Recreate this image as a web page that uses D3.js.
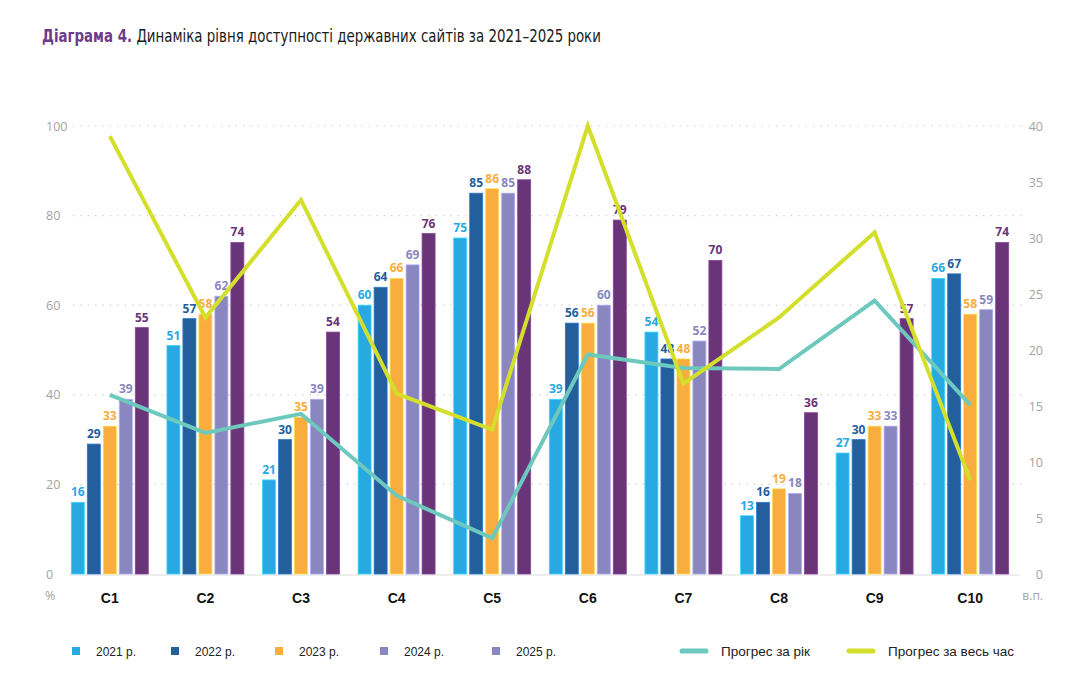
<!DOCTYPE html>
<html>
<head>
<meta charset="utf-8">
<style>
  html, body { margin: 0; padding: 0; background: #fff; }
</style>
</head>
<body>
<div id="chart"></div>
<script src="https://d3js.org/d3.v7.min.js"></script>
<script>
    const width = 1080;
    const height = 675;

    // data
    const categories = ["C1", "C2", "C3", "C4", "C5", "C6", "C7", "C8", "C9", "C10"];
    const years = ["2021 р.", "2022 р.", "2023 р.", "2024 р.", "2025 р."];
    const v2021 = [16, 51, 21, 60, 75, 39, 54, 13, 27, 66];
    const v2022 = [29, 57, 30, 64, 85, 56, 48, 16, 30, 67];
    const v2023 = [33, 58, 35, 66, 86, 56, 48, 19, 33, 58];
    const v2024 = [39, 62, 39, 69, 85, 60, 52, 18, 33, 59];
    const v2025 = [55, 74, 54, 76, 88, 79, 70, 36, 57, 74];
    const progressYear = [16.0, 12.6, 14.3, 7.0, 3.2, 19.6, 18.4, 18.3, 24.4, 15.1];
    const progressAll = [39.1, 22.9, 33.4, 16.1, 12.9, 40, 17.0, 22.9, 30.5, 8.4];
    const leftTicks = [0, 20, 40, 60, 80, 100];
    const rightTicks = [0, 5, 10, 15, 20, 25, 30, 35, 40];

    const series = [v2021, v2022, v2023, v2024, v2025];
    const barColors = ["#29a9e1", "#235e9d", "#f9ad3e", "#8a86c0", "#6a3578"];
    const legendColors = ["#29a9e1", "#235e9d", "#f9ad3e", "#8a86c0", "#8a86c0"];
    const teal = "#6dc8be";
    const lime = "#d3df2b";

    const svg = d3.select("#chart")
        .append("svg")
        .attr("width", width)
        .attr("height", height)
        .style("background-color", "#fff");

    // title; horizontally squeezed to look like the condensed original
    const title = svg.append("g")
        .attr("transform", "translate(42,42) scale(0.875,1)")
        .append("text")
        .attr("x", 0)
        .attr("y", 0)
        .attr("font-family", "'DejaVu Sans Condensed', 'Liberation Sans', sans-serif")
        .attr("font-size", "17px")
        .attr("fill", "#1a1a1a");
    title.append("tspan").attr("font-weight", "bold").attr("fill", "#6e3a8a").text("Діаграма 4.");
    title.append("tspan").text(" Динаміка рівня доступності державних сайтів за 2021–2025 роки");

    const x0 = d3.scaleBand()
        .domain(categories)
        .range([62, 1018])
        .paddingInner(0.195)
        .paddingOuter(0.0975);

    const x1 = d3.scaleBand()
        .domain(years)
        .range([0, x0.bandwidth()])
        .paddingInner(0.1875);

    const yL = d3.scaleLinear().domain([0, 100]).range([574, 126]);
    const yR = d3.scaleLinear().domain([0, 40]).range([574, 126]);

    const axisFont = "'Open Sans', 'Noto Sans', sans-serif";

    // grid lines
    svg.append("g")
        .selectAll("line")
        .data(leftTicks.filter(d => d > 0))
        .join("line")
        .attr("x1", 73)
        .attr("x2", 1022)
        .attr("y1", d => yL(d))
        .attr("y2", d => yL(d))
        .attr("stroke", "#c8c8c8")
        .attr("stroke-width", 1.2)
        .attr("stroke-dasharray", "1.2 6.2");

    // baseline
    svg.append("line")
        .attr("x1", 70).attr("x2", 1020)
        .attr("y1", yL(0) + 1).attr("y2", yL(0) + 1)
        .attr("stroke", "#dedede")
        .attr("stroke-width", 1.2);

    // left axis labels
    svg.append("g")
        .selectAll("text")
        .data(leftTicks)
        .join("text")
        .attr("x", 46)
        .attr("y", d => yL(d) + 4.5)
        .attr("font-family", axisFont)
        .attr("font-size", "12.5px")
        .attr("fill", "#a3a3a3")
        .text(d => d);

    svg.append("text")
        .attr("x", 45).attr("y", 600)
        .attr("font-family", axisFont)
        .attr("font-size", "12.5px")
        .attr("fill", "#a3a3a3")
        .text("%");

    // right axis labels
    svg.append("g")
        .selectAll("text")
        .data(rightTicks)
        .join("text")
        .attr("x", 1043)
        .attr("y", d => yR(d) + 4.5)
        .attr("text-anchor", "end")
        .attr("font-family", axisFont)
        .attr("font-size", "12.5px")
        .attr("fill", "#a3a3a3")
        .text(d => d);

    svg.append("text")
        .attr("x", 1043).attr("y", 600)
        .attr("text-anchor", "end")
        .attr("font-family", axisFont)
        .attr("font-size", "12px")
        .attr("fill", "#a3a3a3")
        .text("в.п.");

    // bars
    const groups = svg.append("g")
        .selectAll("g")
        .data(categories)
        .join("g")
        .attr("transform", d => `translate(${x0(d)},0)`);

    groups.selectAll("rect")
        .data((c, ci) => series.map((s, si) => ({ year: years[si], value: s[ci], si })))
        .join("rect")
        .attr("x", d => x1(d.year))
        .attr("y", d => yL(d.value))
        .attr("width", x1.bandwidth())
        .attr("height", d => yL(0) - yL(d.value))
        .attr("fill", d => barColors[d.si])
        .attr("stroke", d => d3.color(barColors[d.si]).brighter(0.7))
        .attr("stroke-width", 0.8);

    groups.selectAll("text.val")
        .data((c, ci) => series.map((s, si) => ({ year: years[si], value: s[ci], si })))
        .join("text")
        .attr("class", "val")
        .attr("x", d => x1(d.year) + x1.bandwidth() / 2)
        .attr("y", d => yL(d.value) - 6)
        .attr("text-anchor", "middle")
        .attr("font-family", axisFont)
        .attr("font-weight", "bold")
        .attr("font-size", "12px")
        .attr("fill", d => barColors[d.si])
        .text(d => d.value);

    // category labels
    svg.append("g")
        .selectAll("text")
        .data(categories)
        .join("text")
        .attr("x", d => x0(d) + x0.bandwidth() / 2)
        .attr("y", 603)
        .attr("text-anchor", "middle")
        .attr("font-family", "'Liberation Sans', Arial, sans-serif")
        .attr("font-weight", "bold")
        .attr("font-size", "14px")
        .attr("fill", "#111")
        .text(d => d);

    // progress lines
    const cx = (d, i) => x0(categories[i]) + x0.bandwidth() / 2;
    const line = d3.line().x(cx).y(d => yR(d));

    svg.append("path")
        .datum(progressYear)
        .attr("d", line)
        .attr("fill", "none")
        .attr("stroke", teal)
        .attr("stroke-width", 4);

    svg.append("path")
        .datum(progressAll)
        .attr("d", line)
        .attr("fill", "none")
        .attr("stroke", lime)
        .attr("stroke-width", 4);

    // legend
    const legendFont = "'Liberation Sans', Arial, sans-serif";
    const swatchX = [72, 171, 275, 380, 492];
    const legend = svg.append("g");
    years.forEach((y, i) => {
        legend.append("rect")
            .attr("x", swatchX[i]).attr("y", 647)
            .attr("width", 8).attr("height", 8)
            .attr("fill", legendColors[i]);
        legend.append("text")
            .attr("x", swatchX[i] + 24).attr("y", 656)
            .attr("font-family", legendFont)
            .attr("font-size", "12px")
            .attr("fill", "#222")
            .text(y);
    });

    const lineLegend = [
        { label: "Прогрес за рік", color: teal, x: 682 },
        { label: "Прогрес за весь час", color: lime, x: 849 }
    ];
    lineLegend.forEach(d => {
        legend.append("line")
            .attr("x1", d.x).attr("x2", d.x + 24)
            .attr("y1", 651).attr("y2", 651)
            .attr("stroke", d.color)
            .attr("stroke-width", 5)
            .attr("stroke-linecap", "round");
        legend.append("text")
            .attr("x", d.x + 39).attr("y", 656)
            .attr("font-family", legendFont)
            .attr("font-size", "13.5px")
            .attr("fill", "#222")
            .text(d.label);
    });
</script>
</body>
</html>
